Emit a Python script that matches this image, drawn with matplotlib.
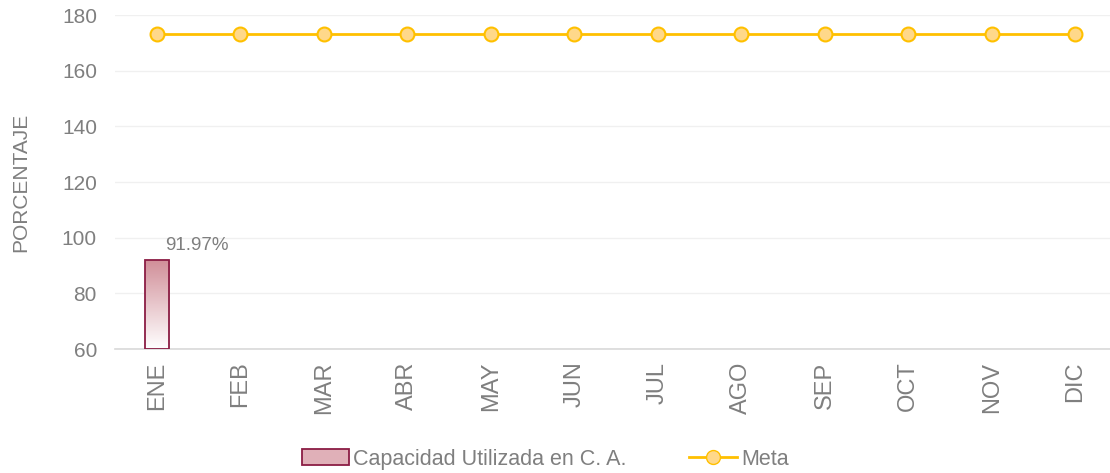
import matplotlib.pyplot as plt
import numpy as np
from matplotlib.patches import Patch
from matplotlib.lines import Line2D
from matplotlib.colors import LinearSegmentedColormap

plt.rcParams['font.family'] = ['Liberation Sans', 'DejaVu Sans']

months = ['ENE', 'FEB', 'MAR', 'ABR', 'MAY', 'JUN', 'JUL', 'AGO', 'SEP', 'OCT', 'NOV', 'DIC']
capacidad = [91.97]  # only January reported
meta = [173.2] * 12

grey = '#7f7f7f'
fig = plt.figure(figsize=(11.1, 4.73), dpi=100)
ax = fig.add_axes([115 / 1110, 1 - 349 / 473, 1002 / 1110, 334 / 473])

x = np.arange(len(months))
ymin = 60

# bars with a vertical gradient fill
bars = ax.bar(x[:len(capacidad)], [v - ymin for v in capacidad], bottom=ymin, width=0.29,
              facecolor='none', edgecolor='#8b1d44', linewidth=1.3, zorder=3)
grad = np.linspace(1, 0, 256).reshape(-1, 1)
cmap = LinearSegmentedColormap.from_list('g', ['#ffffff', '#d18f99'])
for b in bars:
    bx, by = b.get_x(), b.get_y()
    im = ax.imshow(grad, cmap=cmap, aspect='auto', extent=[bx, bx + b.get_width(), by, by + b.get_height()],
                   zorder=2, vmin=0, vmax=1)
    im.set_clip_path(b)
    ax.annotate(f'{capacidad[0]:.2f}%', (bx + b.get_width() / 2, by + b.get_height()),
                xytext=(6, 4), textcoords='offset points', ha='left', va='bottom',
                fontsize=13.5, color=grey)

ax.plot(x, meta, color='#ffc000', linewidth=2, marker='o', markersize=10,
        markerfacecolor='#ffd88a', markeredgecolor='#ffc000', markeredgewidth=1.5, zorder=4)

ax.set_xlim(-0.5, 11.5)
ax.set_ylim(60, 180)
ax.set_yticks(range(60, 181, 20))
ax.set_xticks(x)
ax.set_xticklabels(months, rotation=90)
ax.tick_params(axis='both', length=0, colors=grey)
ax.tick_params(axis='y', labelsize=15, pad=13)
ax.tick_params(axis='x', labelsize=17, pad=9)
ax.grid(axis='y', color='#f0f0f0', linewidth=1)
ax.set_axisbelow(True)
for s in ['top', 'right', 'left']:
    ax.spines[s].set_visible(False)
ax.spines['bottom'].set_color('#d9d9d9')
ax.spines['bottom'].set_linewidth(1.2)
ax.set_ylabel('PORCENTAJE', fontsize=15, color=grey, labelpad=23)

handles = [Patch(facecolor='#e0b0b8', edgecolor='#8b1d44', linewidth=1.3),
           Line2D([], [], color='#ffc000', linewidth=2, marker='o', markersize=10,
                  markerfacecolor='#ffd88a', markeredgecolor='#ffc000')]
fig.legend(handles, ['Capacidad Utilizada en C. A.', 'Meta'], loc='center',
           bbox_to_anchor=(545 / 1110, 1 - 459 / 473), ncol=2, frameon=False,
           fontsize=15.5, labelcolor=grey, columnspacing=2.9, handlelength=2.2, handletextpad=0.2)

fig.savefig('out.png', dpi=100)
